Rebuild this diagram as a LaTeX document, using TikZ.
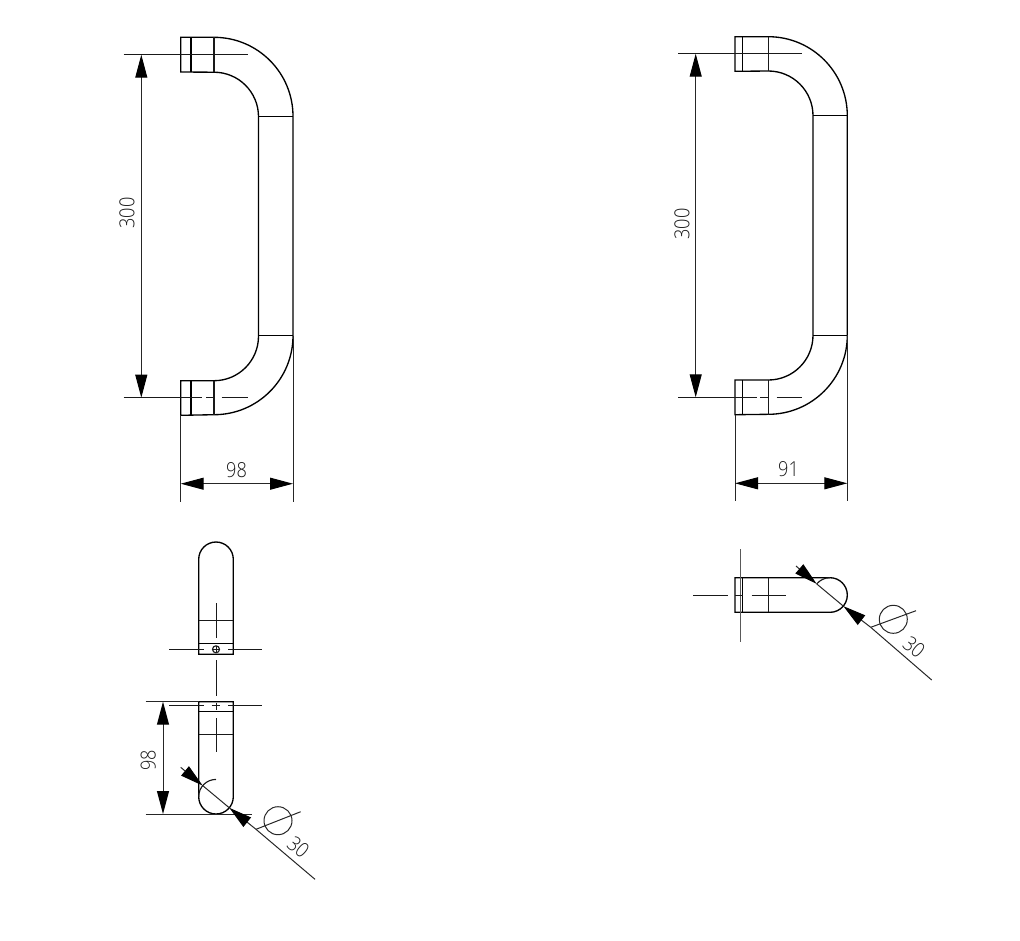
\documentclass[tikz,border=0pt]{standalone}
\usepackage{fontspec}
\setmainfont{Open Sans}[UprightFont=* Light]
\usetikzlibrary{arrows.meta}
\tikzset{part/.style={line width=1pt}}
\tikzset{thin part/.style={line width=.85pt, black!90}}
\tikzset{center line/.style={line width=.75pt, black!90}}
\tikzset{dim line/.style={line width=.75pt, black!85}}
\tikzset{dim both/.style={dim line, {Triangle[length=17.25pt,width=9pt,fill=black,color=black]}-{Triangle[length=17.25pt,width=9pt,fill=black,color=black]}}}
\tikzset{dim tip/.style={dim line, -{Triangle[length=17.25pt,width=9pt,fill=black,color=black]}}}
\tikzset{dim text/.style={font=\fontsize{15.5}{18}\selectfont, text=black!90, inner sep=0pt, xscale=.88}}

\begin{document}
\begin{tikzpicture}[x=.75pt, y=-.75pt]
\useasboundingbox (0,0) rectangle (1020,940);

% left handle, side view
\draw[part] (214,37.3) arc [start angle=270, end angle=360, radius=79] -- (293,335.7) arc [start angle=0, end angle=90, radius=79] -- (180.7,415.3) -- (180.7,380.7) -- (214,380.7) arc [start angle=90, end angle=0, radius=44.5] -- (258.5,116.7) arc [start angle=360, end angle=270, radius=44.5] -- (180.7,72) -- (180.7,37.3) -- cycle;
\draw[part] (191,37.3) -- (191,72);
\draw[part] (191,380.7) -- (191,415.3);
\draw[thin part] (214,37.3) -- (214,72);
\draw[thin part] (214,380.7) -- (214,415.3);
\draw[part] (258.5,116.7) -- (293,116.7);
\draw[part] (258.5,335.7) -- (293,335.7);

\draw[center line] (123.5,54.7) -- (248,54.7);
\draw[center line] (123.5,397.7) -- (201.7,397.7);
\draw[center line] (206,397.7) -- (214,397.7);
\draw[center line] (221.7,397.7) -- (248,397.7);

\draw[dim both] (141.3,54.7) -- (141.3,397.7);
\node[rotate=90, dim text] (leftheight) at (127,213) {300};
\draw[dim line] (180.7,415.3) -- (180.7,501.7);
\draw[dim line] (293,335.7) -- (293,501.7);
\draw[dim both] (180.7,483.7) -- (293,483.7);
\node[dim text] (leftdepth) at (236.5,470) {98};

% right handle, side view
\draw[part] (768.3,36.7) arc [start angle=270, end angle=360, radius=79] -- (847.3,335.3) arc [start angle=0, end angle=90, radius=79] -- (735,414.7) -- (735,380) -- (768.3,380) arc [start angle=90, end angle=0, radius=44.7] -- (813,115.7) arc [start angle=360, end angle=270, radius=44.7] -- (735,71.3) -- (735,36.7) -- cycle;
\draw[part] (742.3,36.7) -- (742.3,71.3);
\draw[part] (742.3,380) -- (742.3,414.7);
\draw[thin part] (768.3,36.7) -- (768.3,71.3);
\draw[thin part] (768.3,380) -- (768.3,414.7);
\draw[part] (813,115.7) -- (847.3,115.7);
\draw[part] (813,335.3) -- (847.3,335.3);

\draw[center line] (678,53.7) -- (802.3,53.7);
\draw[center line] (678,397.3) -- (757.3,397.3);
\draw[center line] (760,397.3) -- (768.3,397.3);
\draw[center line] (776.7,397.3) -- (802.3,397.3);

\draw[dim both] (695.7,53.7) -- (695.7,397.3);
\node[rotate=90, dim text] (rightheight) at (682,224) {300};
\draw[dim line] (735,414.7) -- (735,501);
\draw[dim line] (847.3,335.3) -- (847.3,501);
\draw[dim both] (735,483.3) -- (847.3,483.3);
\node[dim text] (rightdepth) at (788.5,469) {91};

% upper end view
\draw[part] (198.7,654.3) -- (198.7,559.3) arc [start angle=180, end angle=360, radius=17.3] -- (233.3,654.3) -- cycle;
\draw[thin part] (198.7,620.7) -- (233.3,620.7);
\draw[part] (198.7,643.7) -- (233.3,643.7);
\draw[center line] (216,603.3) -- (216,637.7);
\draw[center line] (169.3,649.3) -- (204,649.3);
\draw[center line] (228,649.3) -- (262.3,649.3);
\draw[thin part] (216,649.3) circle [radius=3.5];
\draw[center line] (213,649.3) -- (219,649.3);
\draw[center line] (216,646.3) -- (216,652.3);
\draw[center line] (216,660) -- (216,695.7);

% lower end view
\draw[part] (198.7,796.7) -- (198.7,701.7) -- (233.3,701.7) -- (233.3,796.7) arc [start angle=0, end angle=180, radius=17.3];
\draw[thin part] (198.7,796.7) arc [start angle=180, end angle=270, radius=17.3];
\draw[part] (198.7,711.7) -- (233.3,711.7);
\draw[thin part] (198.7,734.3) -- (233.3,734.3);
\draw[center line] (216,718.3) -- (216,752.3);
\draw[center line] (216,702.5) -- (216,710);
\draw[center line] (169.3,705.7) -- (204,705.7);
\draw[center line] (211.7,705.7) -- (220,705.7);
\draw[center line] (228,705.7) -- (262.3,705.7);

\draw[dim line] (145.7,701.7) -- (198.7,701.7);
\draw[dim line] (145.7,814) -- (251.7,814);
\draw[dim both] (163,701.7) -- (163,814);
\node[rotate=90, dim text] (lowerdepth) at (148.3,760) {98};

\draw[dim line] (202.7,785.6) -- (229.3,807.8);
\draw[dim tip] (180.7,767.3) -- (202.7,785.6);
\draw[dim tip] (256,829.3) -- (229.3,807.8);
\draw[dim line] (256,829.3) -- (315,879.3);
\draw[dim line] (278,820.7) circle [radius=14];
\draw[dim line] (256,829.3) -- (300.7,811.7);
\node[rotate=-40, dim text] (lowerdiam) at (298.3,847) {30};

% right end view
\draw[part] (735,577.7) -- (830,577.7) arc [start angle=270, end angle=450, radius=17.3] -- (735,612.3) -- cycle;
\draw[thin part] (816.7,583.9) arc [start angle=220, end angle=270, radius=17.3];
\draw[part] (742.3,577.7) -- (742.3,612.3);
\draw[thin part] (768.3,577.7) -- (768.3,612.3);
\draw[dim line, black!65] (740,549) -- (740,641.7);
\draw[center line] (693.3,595) -- (728.3,595);
\draw[center line] (735,595) -- (743,595);
\draw[center line] (751.7,595) -- (786,595);

\draw[dim line] (816.7,583.9) -- (843.3,606.1);
\draw[dim tip] (796,566) -- (816.7,583.9);
\draw[dim tip] (870.7,627.3) -- (843.3,606.1);
\draw[dim line] (870.7,627.3) -- (931.7,680);
\draw[dim line] (893.3,619.3) circle [radius=14];
\draw[dim line] (870.7,627.3) -- (916,610.7);
\node[rotate=-40, dim text] (rightdiam) at (914,647) {30};

\end{tikzpicture}
\end{document}
